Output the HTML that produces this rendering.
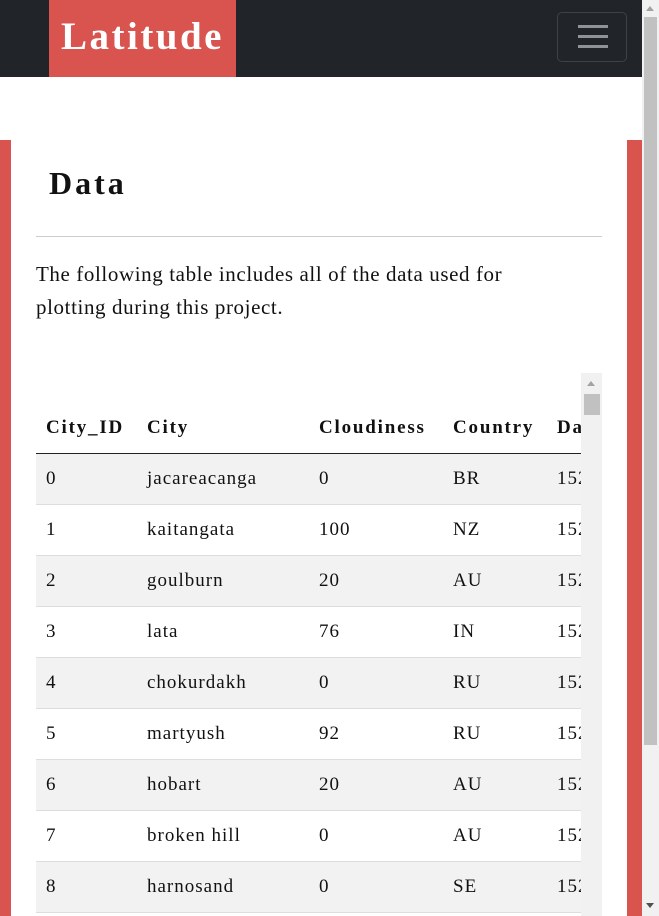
<!DOCTYPE html>
<html style="overflow:hidden"><head><meta charset="utf-8"><style>
*{box-sizing:border-box;margin:0;padding:0}
body{width:659px;height:916px;overflow:hidden;background:#fff;font-family:Georgia,"Liberation Serif",serif;color:#212529;position:relative}
.abs{position:absolute}
nav{left:0;top:0;width:642px;height:77px;background:#212529}
.brand{left:49px;top:0;width:187px;height:77px;background:#d9534f;color:#fff;font-weight:bold;font-size:39px;letter-spacing:2.5px;line-height:74px;text-align:center}
.tog{left:557px;top:12px;width:70px;height:50px;border:1px solid #3e4246;border-radius:5px}
.tog i{position:absolute;left:20px;width:30px;height:3px;background:#8f9296}
.sideL{left:0;top:140px;width:11px;height:776px;background:#d9534f}
.sideR{left:627px;top:140px;width:15px;height:776px;background:#d9534f}
h1{left:49px;top:165px;font-size:32px;letter-spacing:3px;font-weight:bold;color:#111}
hr{position:absolute;left:36px;top:236px;width:566px;border:0;border-top:1px solid #ccc}
p{left:36px;top:258px;width:520px;font-size:21px;letter-spacing:0.6px;line-height:33px;color:#111}
.tbl{left:36px;top:373px;width:545px;height:543px;overflow:hidden}
table{border-collapse:collapse;font-size:19px;letter-spacing:1px;position:absolute;left:0;top:0;width:700px;color:#111}
th{text-align:left;font-weight:bold;letter-spacing:1.8px;height:80px;vertical-align:bottom;padding:0 0 14px 10px;border-bottom:1px solid #222}
td{height:51px;padding:0 0 0 10px;border-top:1px solid #ddd}
tr.g td{background:#f2f2f2}
.isb{left:581px;top:373px;width:21px;height:543px;background:#f1f1f1}
.psb{left:642px;top:0;width:17px;height:916px;background:#f1f1f1}
</style></head><body>
<div class="abs" style="left:0;top:0;width:642px;height:916px;overflow:hidden">
<nav class="abs">
<div class="abs brand">Latitude</div>
<div class="abs tog"><i style="top:12px"></i><i style="top:22px"></i><i style="top:32px"></i></div>
</nav>
<div class="abs sideL"></div>
<div class="abs sideR"></div>
<h1 class="abs">Data</h1>
<hr>
<p class="abs">The following table includes all of the data used for plotting during this project.</p>
<div class="abs tbl">
<table>
<colgroup><col style="width:101px"><col style="width:172px"><col style="width:134px"><col style="width:104px"><col></colgroup>
<tr><th>City_ID</th><th>City</th><th>Cloudiness</th><th>Country</th><th>Date</th></tr>
<tr class="g"><td>0</td><td>jacareacanga</td><td>0</td><td>BR</td><td>1528</td></tr>
<tr><td>1</td><td>kaitangata</td><td>100</td><td>NZ</td><td>1528</td></tr>
<tr class="g"><td>2</td><td>goulburn</td><td>20</td><td>AU</td><td>1528</td></tr>
<tr><td>3</td><td>lata</td><td>76</td><td>IN</td><td>1528</td></tr>
<tr class="g"><td>4</td><td>chokurdakh</td><td>0</td><td>RU</td><td>1528</td></tr>
<tr><td>5</td><td>martyush</td><td>92</td><td>RU</td><td>1528</td></tr>
<tr class="g"><td>6</td><td>hobart</td><td>20</td><td>AU</td><td>1528</td></tr>
<tr><td>7</td><td>broken hill</td><td>0</td><td>AU</td><td>1528</td></tr>
<tr class="g"><td>8</td><td>harnosand</td><td>0</td><td>SE</td><td>1528</td></tr>
<tr><td>9</td><td>x</td><td>0</td><td>X</td><td>1528</td></tr>
</table>
</div>
<div class="abs isb">
<div class="abs" style="left:6px;top:8px;width:0;height:0;border-left:4px solid transparent;border-right:4px solid transparent;border-bottom:5px solid #a3a3a3"></div>
<div class="abs" style="left:3px;top:21px;width:16px;height:21px;background:#c1c1c1"></div>
</div>
</div>
<div class="abs psb">
<div class="abs" style="left:4px;top:6px;width:0;height:0;border-left:4px solid transparent;border-right:4px solid transparent;border-bottom:5px solid #a3a3a3"></div>
<div class="abs" style="left:2px;top:17px;width:13px;height:728px;background:#c1c1c1"></div>
<div class="abs" style="left:4px;top:903px;width:0;height:0;border-left:4px solid transparent;border-right:4px solid transparent;border-top:5px solid #505050"></div>
</div>
</body></html>
